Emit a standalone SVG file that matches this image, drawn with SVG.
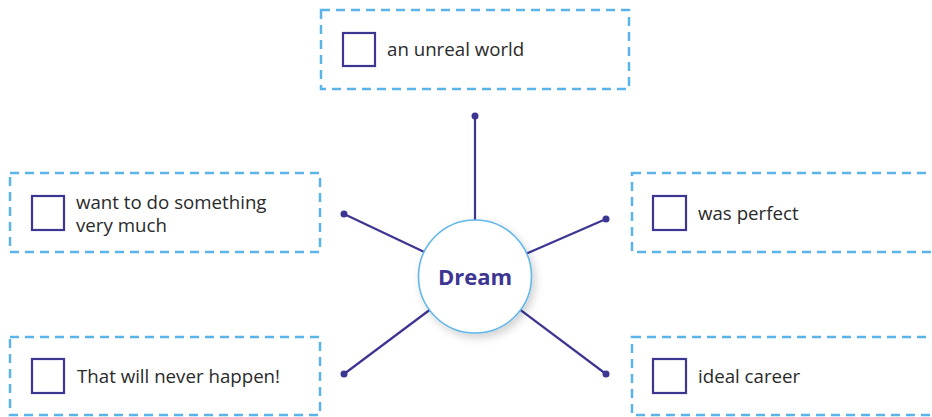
<svg xmlns="http://www.w3.org/2000/svg" width="932" height="417" viewBox="0 0 932 417">
  <style>
    .frame { fill: #ffffff; stroke: #5bb4e8; stroke-width: 2.5; stroke-dasharray: 9 6; }
    .tick { fill: #ffffff; stroke: #3d3592; stroke-width: 2.2; }
    .label { font-family: "Open Sans", "Liberation Sans", sans-serif; font-size: 18.7px; fill: #2a2a2a; }
    .spoke { stroke: #3d3592; stroke-width: 2.2; fill: none; }
    .dot { fill: #3d3592; }
    .hub { fill: #ffffff; stroke: #62b6e8; stroke-width: 1.6; }
    .hub-text { font-family: "Open Sans", "Liberation Sans", sans-serif; font-size: 22px; font-weight: bold; fill: #3d3592; }
  </style>
  <defs>
    <filter id="soft-shadow" x="-30%" y="-30%" width="160%" height="160%">
      <feDropShadow dx="3" dy="4" stdDeviation="4" flood-color="#000000" flood-opacity="0.18"/>
    </filter>
  </defs>
  <rect width="932" height="417" fill="#ffffff"/>

  <g id="connectors">
    <line class="spoke" x1="475" y1="116" x2="475" y2="276"/>
    <line class="spoke" x1="344" y1="214" x2="475" y2="276"/>
    <line class="spoke" x1="606" y1="219" x2="475" y2="276"/>
    <line class="spoke" x1="344" y1="374" x2="475" y2="276"/>
    <line class="spoke" x1="606" y1="374" x2="475" y2="276"/>
    <circle class="dot" cx="475" cy="116" r="3.5"/>
    <circle class="dot" cx="344" cy="214" r="3.5"/>
    <circle class="dot" cx="606" cy="219" r="3.5"/>
    <circle class="dot" cx="344" cy="374" r="3.5"/>
    <circle class="dot" cx="606" cy="374" r="3.5"/>
  </g>

  <g id="hub">
    <circle class="hub" cx="475" cy="276.5" r="56.5" filter="url(#soft-shadow)"/>
    <text class="hub-text" x="475" y="285" text-anchor="middle">Dream</text>
  </g>

  <g id="node-unreal-world">
    <rect class="frame" x="321" y="10" width="308" height="79"/>
    <rect class="tick" x="343" y="33" width="32" height="33"/>
    <text class="label" x="387" y="56">an unreal world</text>
  </g>

  <g id="node-want-to-do">
    <rect class="frame" x="10" y="173" width="310" height="79"/>
    <rect class="tick" x="32" y="196" width="32" height="34"/>
    <text class="label" x="76" y="209">want to do something</text>
    <text class="label" x="76" y="232">very much</text>
  </g>

  <g id="node-was-perfect">
    <rect class="frame" x="632" y="173" width="320" height="79"/>
    <rect class="tick" x="653" y="196" width="33" height="34"/>
    <text class="label" x="698" y="220">was perfect</text>
  </g>

  <g id="node-never-happen">
    <rect class="frame" x="10" y="337" width="310" height="78"/>
    <rect class="tick" x="32" y="359" width="32" height="34"/>
    <text class="label" x="77" y="383">That will never happen!</text>
  </g>

  <g id="node-ideal-career">
    <rect class="frame" x="632" y="337" width="320" height="78"/>
    <rect class="tick" x="653" y="359" width="33" height="34"/>
    <text class="label" x="698" y="383">ideal career</text>
  </g>
</svg>
